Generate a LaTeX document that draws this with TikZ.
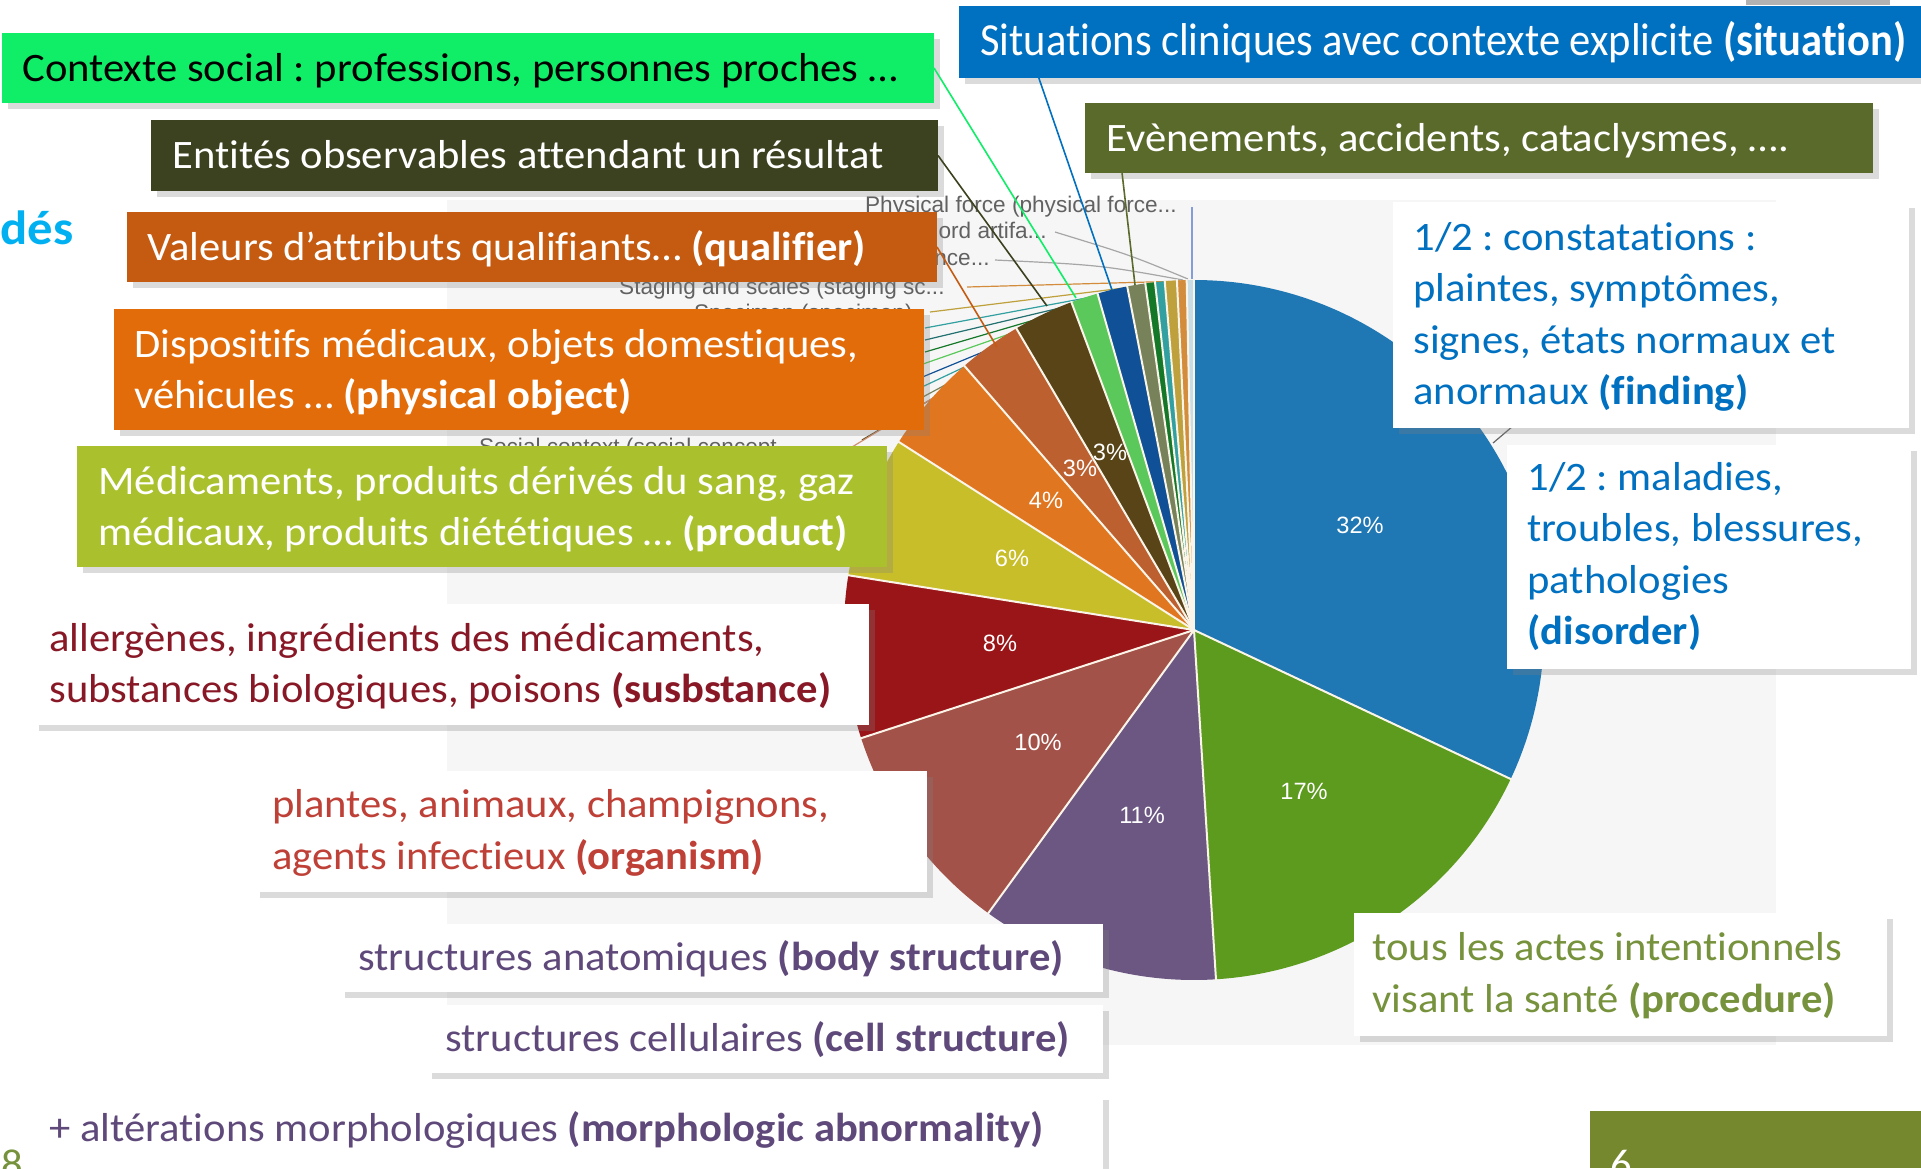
\documentclass[tikz,border=0pt]{standalone}
\usepackage{fontspec}
\setmainfont{Carlito}[FakeStretch=1.055, Ligatures=NoCommon]
\newfontfamily\condfont{Carlito}[FakeStretch=0.925, Ligatures=NoCommon]
\newfontfamily\chartfont{Liberation Sans}
\usetikzlibrary{shadows,fit,calc}
\frenchspacing
\definecolor{cgreen}{RGB}{16,238,104}
\definecolor{cblue}{RGB}{0,112,192}
\definecolor{colive}{RGB}{90,106,43}
\definecolor{cdark}{RGB}{60,66,32}
\definecolor{crust}{RGB}{197,90,17}
\definecolor{corange}{RGB}{227,108,10}
\definecolor{cyg}{RGB}{170,193,45}
\definecolor{tred}{RGB}{136,24,38}
\definecolor{tbrick}{RGB}{190,64,55}
\definecolor{tpurple}{RGB}{95,73,122}
\definecolor{tolive}{RGB}{118,146,60}
\definecolor{cbox}{RGB}{118,136,45}
\definecolor{ccyan}{RGB}{0,176,240}
\definecolor{bgchart}{RGB}{246,246,246}
\definecolor{pblue}{RGB}{31,119,180}
\definecolor{pgreen}{RGB}{92,155,30}
\definecolor{ppurple}{RGB}{108,86,130}
\definecolor{pbrown}{RGB}{162,82,72}
\definecolor{pdred}{RGB}{154,21,24}
\definecolor{pyellow}{RGB}{200,190,42}
\definecolor{porange}{RGB}{225,118,32}
\definecolor{prust}{RGB}{188,96,48}
\definecolor{pdbrown}{RGB}{88,68,22}
\definecolor{plgreen}{RGB}{90,200,90}
\definecolor{pdblue}{RGB}{15,80,150}
\definecolor{pog}{RGB}{120,130,90}
\definecolor{pdgreen}{RGB}{20,120,40}
\definecolor{pteal}{RGB}{50,160,160}
\definecolor{pgold}{RGB}{190,160,60}
\definecolor{ptan}{RGB}{210,140,60}
\definecolor{ppale}{RGB}{200,220,230}
\definecolor{psep}{RGB}{250,245,232}
\begin{document}
\begin{tikzpicture}[x=0.5pt,y=-0.5pt,
  box/.style={inner sep=0pt, outer sep=0pt, draw=none,
    drop shadow={shadow xshift=3pt, shadow yshift=-3pt, opacity=0.28}},
  txt/.style={anchor=base west, inner sep=0pt, font=\fontsize{20.2}{24}\selectfont},
  pct/.style={font=\chartfont\fontsize{11.8}{13}\selectfont, text=white, inner sep=0pt},
  glab/.style={font=\chartfont\fontsize{11.3}{13}\selectfont, text=black!62, anchor=base east, inner sep=0pt},
  lead/.style={line width=0.6pt},
  conn/.style={line width=0.8pt}]
\useasboundingbox (0,0) rectangle (1921,1168);
\fill[white] (0,0) rectangle (1921,1168);
\fill[bgchart] (447,200) rectangle (1776,1045);
\fill[black!30] (1746,0) rectangle (1890,5);

% faint chart labels
\node[glab] (gl1) at (1177,212) {Physical force (physical force...};
\node[glab] (gl2) at (1047,238) {ord artifa...};
\node[glab] (gl3) at (990,265) {nce...};
\node[glab] (gl4) at (945,294) {Staging and scales (staging sc...};
\node[glab] (gl5) at (913,320) {Specimen (specimen)};
\node[glab] (gl6) at (796,454) {Social context (social concept...};

% chart leader lines (behind pie)
\draw[lead, cyan!40!blue!50] (1192,279) -- (1192,207);
\draw[lead, black!35] (1188,279) .. controls (1130,255) .. (1055,232);
\draw[lead, black!35] (1183,280) .. controls (1100,265) .. (995,260);
\draw[lead, ptan] (1186,281) -- (967,287);
\draw[lead, pgold] (1180,281) -- (930,312);
\draw[lead, pteal] (1172,282) -- (925,328);
\draw[lead, pteal!70!black] (1165,283) -- (925,340);
\draw[lead, pdgreen] (1157,284) -- (925,352);
\draw[lead, plgreen] (1150,285) -- (923,364);
\draw[lead, pdblue] (1140,287) -- (920,378);
\draw[lead, pteal] (1130,289) -- (905,395);
\draw[lead, pog] (1120,291) -- (880,420);
\draw[lead, pdbrown] (1110,294) -- (862,440);
\draw[lead, prust!70] (1100,297) -- (852,447);
\draw[lead, black!60] (1493,443) -- (1513,426);

% pie
\begin{scope}[shift={(1194,630)}, x=0.5pt, y=0.5pt]
\foreach \a/\b/\c in {90/-25.2/pblue, -25.2/-86.4/pgreen, -86.4/-126/ppurple,
  -126/-162/pbrown, -162/-189/pdred, 171/147.5/pyellow, 147.5/131/porange,
  131/120.5/prust, 120.5/110.5/pdbrown, 110.5/106/plgreen, 106/101/pdblue,
  101/98/pog, 98/96.4/pdgreen, 96.4/94.8/pteal, 94.8/92.8/pgold,
  92.8/91.2/ptan, 91.2/90/ppale}
  {\fill[\c] (0,0) -- (\a:350) arc[start angle=\a, end angle=\b, radius=350] -- cycle;}
\foreach \a in {90,-25.2,-86.4,-126,-162,171,147.5,131,120.5,110.5,106,101,98,96.4,94.8,92.8,91.2}
  {\draw[psep, line width=1pt] (0,0) -- (\a:351);}
\end{scope}

\node[pct] (p32) at (1360,525) {32\%};
\node[pct] (p17) at (1304,791) {17\%};
\node[pct] (p11) at (1142,815) {11\%};
\node[pct] (p10) at (1038,742) {10\%};
\node[pct] (p8) at (1000,643) {8\%};
\node[pct] (p6) at (1012,558) {6\%};
\node[pct] (p4) at (1046,500) {4\%};
\node[pct] (p3a) at (1080,468) {3\%};
\node[pct] (p3b) at (1110,452) {3\%};

% boxes
\node[box, fill=cgreen, fit={(2,33) (934,103)}] (ctx) {};
\node[box, fill=cblue, fit={(959,6) (1921,78)}] (sit) {};
\node[box, fill=colive, fit={(1085,103) (1873,173)}] (eve) {};
\node[box, fill=cdark, fit={(151,120) (938,191)}] (ent) {};
\node[box, fill=crust, fit={(127,212) (937,282)}] (val) {};
\node[box, fill=corange, fit={(114,309) (924,430)}] (dis) {};
\node[box, fill=cyg, fit={(77,446) (887,567)}] (med) {};
\node[box, fill=white, fit={(33,604) (869,725)}] (sub) {};
\node[box, fill=white, fit={(254,771) (927,892)}] (org) {};
\node[box, fill=white, fit={(339,924) (1103,992)}] (ana) {};
\node[box, fill=white, fit={(426,1005) (1103,1073)}] (cel) {};
\node[box, fill=white, fit={(31,1094) (1103,1180)}] (alt) {};
\node[box, fill=white, fit={(1393,202) (1909,428)}] (fin) {};
\node[box, fill=white, fit={(1507,445) (1911,669)}] (dso) {};
\node[box, fill=white, fit={(1354,913) (1887,1036)}] (pro) {};
\node[inner sep=0pt, outer sep=0pt, fill=cbox, fit={(1590,1111) (1921,1168)}] (six) {};

% texts
\node[txt, text=black] (tctx) at (22,81) {Contexte social : professions, personnes proches …};
\node[txt, text=white, font=\condfont\fontsize{23}{26}\selectfont] (tsit) at (980,55) {Situations cliniques avec contexte explicite \textbf{(situation)}};
\node[txt, text=white] (teve) at (1106,151) {Evènements, accidents, cataclysmes, ….};
\node[txt, text=white] (tent) at (172,168) {Entités observables attendant un résultat};
\node[txt, text=white] (tval) at (147,260) {Valeurs d’attributs qualifiants… \textbf{(qualifier)}};
\node[txt, text=white] (tdis1) at (134,357) {Dispositifs médicaux, objets domestiques,};
\node[txt, text=white] (tdis2) at (134,408) {véhicules … \textbf{(physical object)}};
\node[txt, text=white] (tmed1) at (98,494) {Médicaments, produits dérivés du sang, gaz};
\node[txt, text=white] (tmed2) at (98,545) {médicaux, produits diététiques … \textbf{(product)}};
\node[txt, text=tred] (tsub1) at (49,651) {allergènes, ingrédients des médicaments,};
\node[txt, text=tred] (tsub2) at (49,702) {substances biologiques, poisons \textbf{(susbstance)}};
\node[txt, text=tbrick] (torg1) at (272,817) {plantes, animaux, champignons,};
\node[txt, text=tbrick] (torg2) at (272,869) {agents infectieux \textbf{(organism)}};
\node[txt, text=tpurple] (tana) at (358,970) {structures anatomiques \textbf{(body structure)}};
\node[txt, text=tpurple] (tcel) at (445,1051) {structures cellulaires \textbf{(cell structure)}};
\node[txt, text=tpurple] (talt) at (49,1141) {+ altérations morphologiques \textbf{(morphologic abnormality)}};
\node[txt, text=cblue] (tfin1) at (1413,250) {1/2 : constatations :};
\node[txt, text=cblue] (tfin2) at (1413,301) {plaintes, symptômes,};
\node[txt, text=cblue] (tfin3) at (1413,353) {signes, états normaux et};
\node[txt, text=cblue] (tfin4) at (1413,404) {anormaux \textbf{(finding)}};
\node[txt, text=cblue] (tdso1) at (1527,490) {1/2 : maladies,};
\node[txt, text=cblue] (tdso2) at (1527,541) {troubles, blessures,};
\node[txt, text=cblue] (tdso3) at (1527,593) {pathologies};
\node[txt, text=cblue] (tdso4) at (1527,644) {\textbf{(disorder)}};
\node[txt, text=tolive] (tpro1) at (1372,960) {tous les actes intentionnels};
\node[txt, text=tolive] (tpro2) at (1372,1012) {visant la santé \textbf{(procedure)}};
\node[txt, text=ccyan, font=\fontsize{24}{28}\selectfont\bfseries] (tdes) at (0,244) {dés};
\node[txt, text=tolive] (t8) at (1,1177) {8};
\node[txt, text=white] (t6) at (1610,1177) {6};

% connectors from boxes to slices
\coordinate (slg) at (1076,298);
\coordinate (sldb) at (1047,306);
\coordinate (slr) at (997,347);
\coordinate (slb) at (1112,290);
\coordinate (slo) at (1135,285);
\draw[conn, cgreen] (ctx.east) -- (slg);
\draw[conn, cdark] (ent.east) -- (sldb);
\draw[conn, crust] (val.east) -- (slr);
\draw[conn, cblue] ($(sit.south west)!0.083!(sit.south east)$) -- (slb);
\draw[conn, colive] ($(eve.south west)!0.047!(eve.south east)$) -- (slo);
\end{tikzpicture}
\end{document}
